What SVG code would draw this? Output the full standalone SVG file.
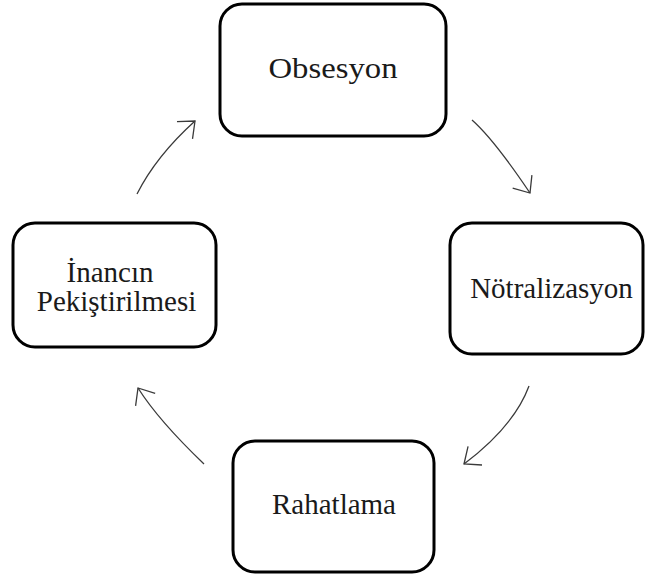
<svg xmlns="http://www.w3.org/2000/svg" width="646" height="578" viewBox="0 0 646 578">
  <style>
    .box { fill: #ffffff; stroke: #000000; stroke-width: 3; }
    .lbl { font-size: 29px; fill: #1a1a1a; text-anchor: middle; }
    .conn { fill: none; stroke: #3a3a3a; stroke-width: 1.3; }
  </style>
  <defs>
    <marker id="arrow" markerUnits="userSpaceOnUse" viewBox="-16 -14 18 28" refX="0" refY="0" markerWidth="18" markerHeight="28" orient="auto" overflow="visible">
      <path d="M-13.8,-11.6 L0,0 L-13.8,11.6" fill="none" stroke="#3a3a3a" stroke-width="1.3"/>
    </marker>
  </defs>
  <rect width="646" height="578" fill="#ffffff"/>
  <g id="connectors">
    <path class="conn" d="M472,120 Q493.6,139 530,193" marker-end="url(#arrow)"/>
    <path class="conn" d="M529,386 Q514,426.4 464,464" marker-end="url(#arrow)"/>
    <path class="conn" d="M204,464 Q158.6,420.5 138,388" marker-end="url(#arrow)"/>
    <path class="conn" d="M137,194 Q156.2,156 195,121" marker-end="url(#arrow)"/>
  </g>
  <g id="obsesyon" font-family="Liberation Serif, Times New Roman, DejaVu Serif, serif">
    <rect class="box" x="220" y="4" width="226" height="132" rx="22"/>
    <text class="lbl" x="333" y="78" textLength="129" lengthAdjust="spacingAndGlyphs">Obsesyon</text>
  </g>
  <g id="notralizasyon" font-family="Liberation Serif, Times New Roman, DejaVu Serif, serif">
    <rect class="box" x="450" y="223" width="193" height="131" rx="22"/>
    <text class="lbl" x="551.5" y="298">Nötralizasyon</text>
  </g>
  <g id="rahatlama" font-family="Liberation Serif, Times New Roman, DejaVu Serif, serif">
    <rect class="box" x="233" y="441" width="201" height="131" rx="22"/>
    <text class="lbl" x="334" y="514">Rahatlama</text>
  </g>
  <g id="inancin-pekistirilmesi" font-family="Liberation Serif, Times New Roman, DejaVu Serif, serif">
    <rect class="box" x="13" y="223" width="203" height="124" rx="22"/>
    <text class="lbl" x="110" y="282">İnancın</text>
    <text class="lbl" x="116.5" y="311">Pekiştirilmesi</text>
  </g>
</svg>
